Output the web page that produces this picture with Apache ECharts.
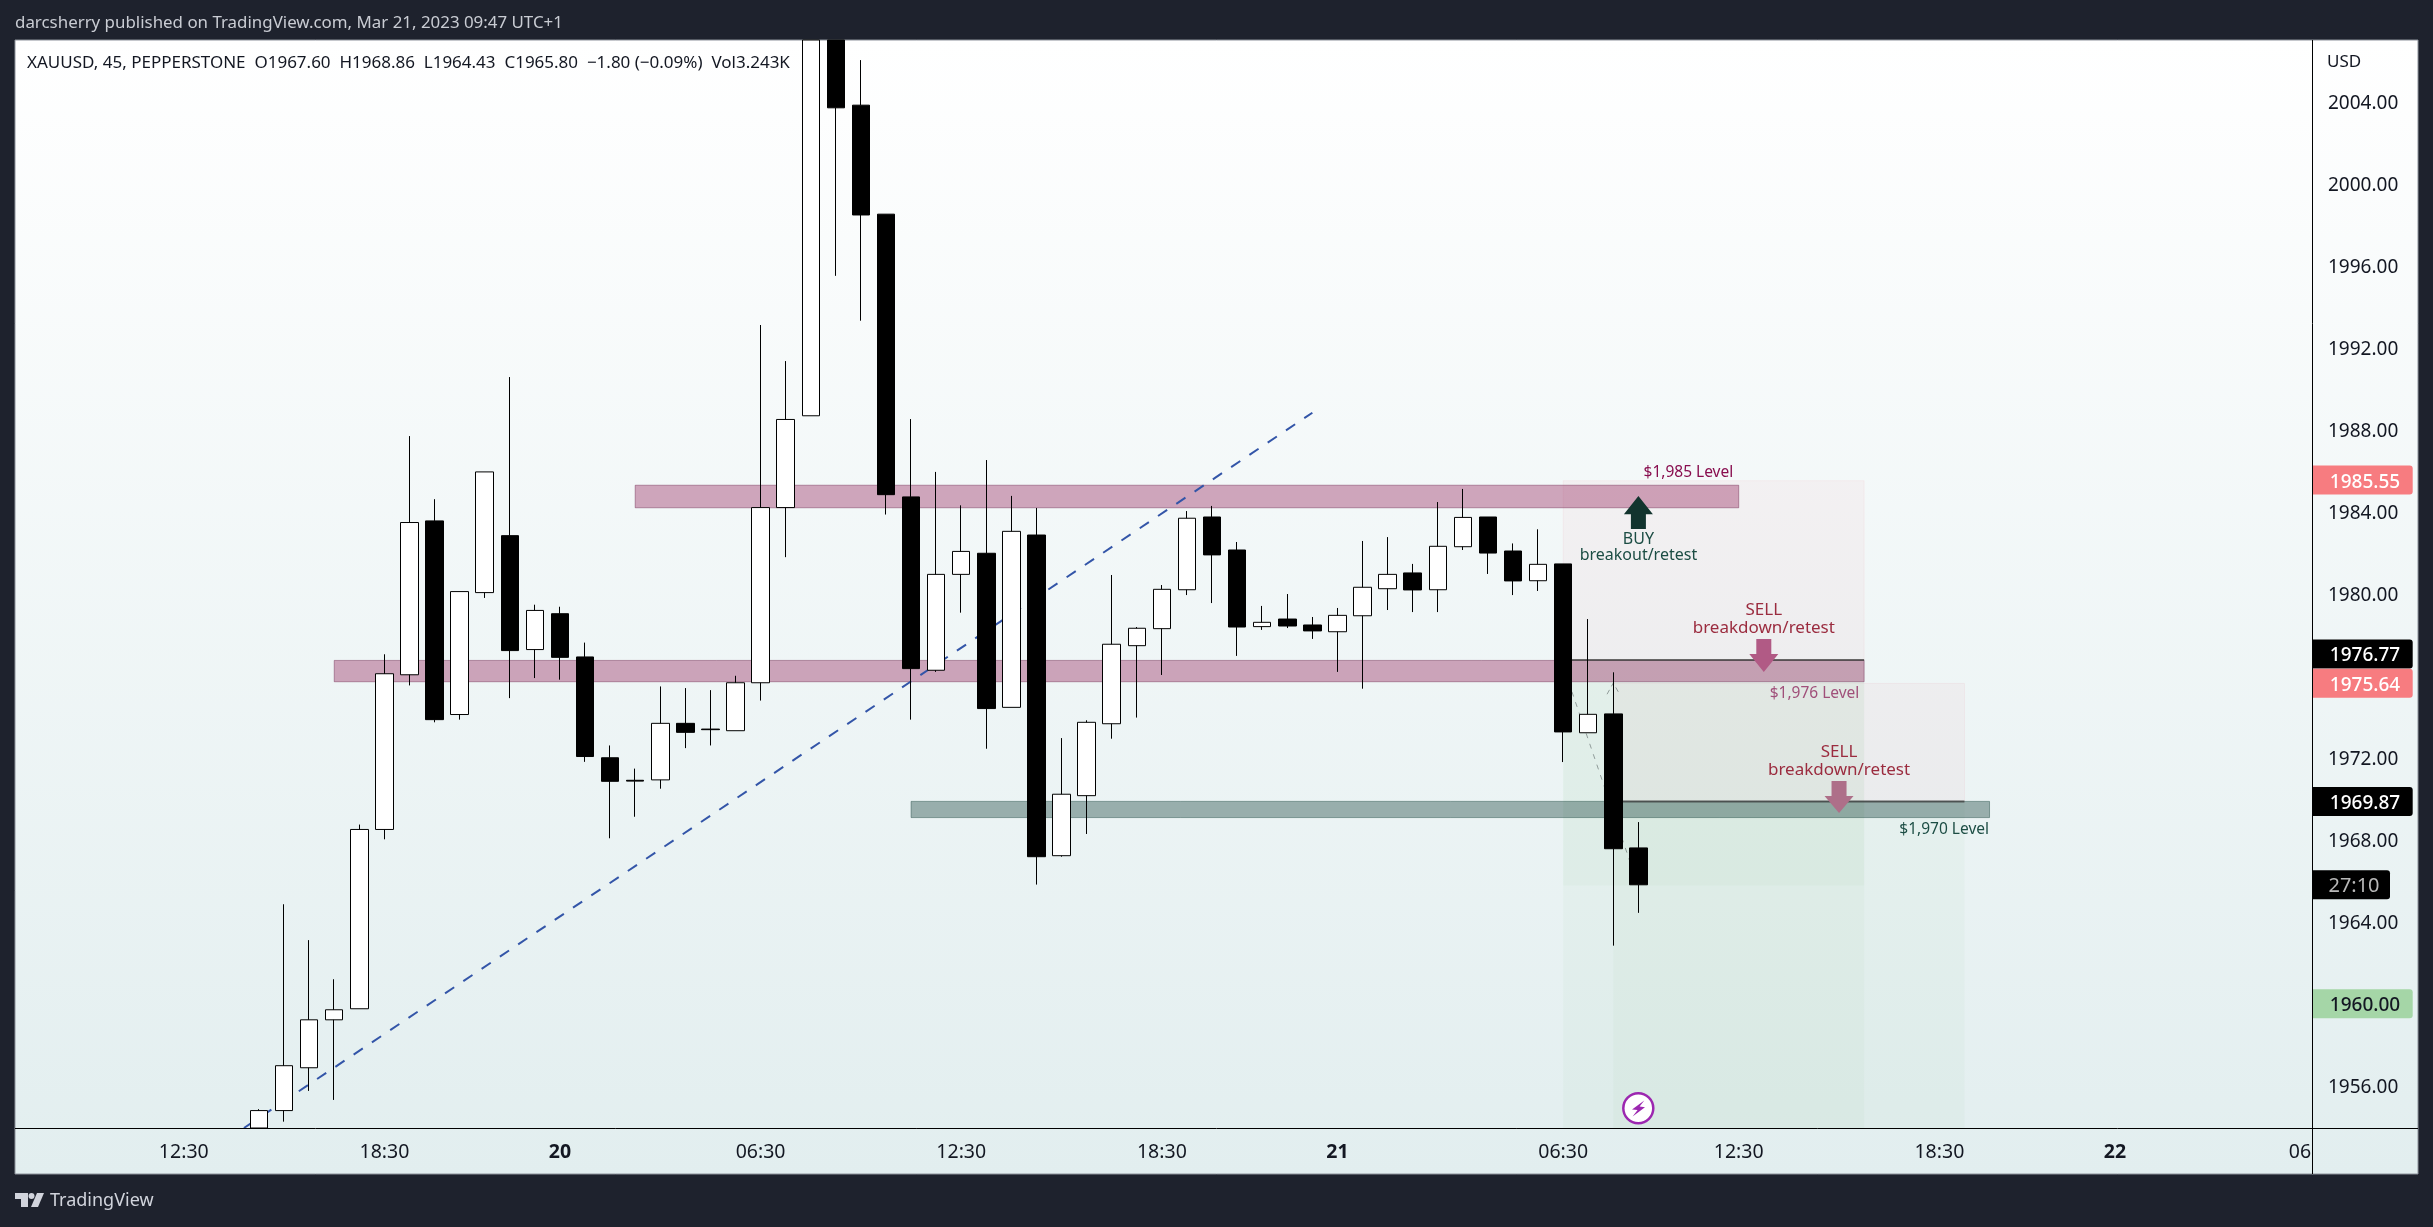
<!DOCTYPE html>
<html>
<head>
<meta charset="utf-8">
<title>XAUUSD 45</title>
<script src="https://cdn.jsdelivr.net/npm/echarts@6/dist/echarts.min.js"></script>
<style>
    html, body { margin: 0; padding: 0; background: #1e222d; }
    #chart { width: 2433px; height: 1227px; }
</style>
</head>
<body>
<div id="chart"></div>
<script>
// candles, one entry per 45 minute bar
var barOpen = [1953.00, 1954.78, 1956.87, 1959.21, 1959.75, 1968.50, 1976.05, 1983.56, 1974.11, 1980.06, 1982.84, 1977.28, 1979.03, 1976.92, 1972.00, 1970.90, 1970.92, 1973.68, 1973.40, 1973.32, 1975.66, 1984.21, 1988.69, 2009.00, 2003.85, 1998.53, 1984.73, 1976.27, 1980.95, 1981.98, 1974.46, 1982.87, 1967.22, 1970.15, 1973.66, 1977.47, 1978.30, 1980.20, 1983.75, 1982.14, 1978.40, 1978.77, 1978.48, 1978.15, 1978.93, 1980.25, 1981.02, 1980.20, 1982.30, 1983.75, 1982.09, 1980.64, 1981.46, 1973.22, 1974.14, 1967.60];
var barHigh = [1954.85, 1964.85, 1963.10, 1961.19, 1968.74, 1977.05, 1987.70, 1984.62, 1980.11, 1985.95, 1990.58, 1979.47, 1979.37, 1977.62, 1972.60, 1971.47, 1975.48, 1975.40, 1975.30, 1976.00, 1993.12, 1991.36, 2011.00, 2010.00, 2006.05, 1998.53, 1988.53, 1985.95, 1984.32, 1986.53, 1984.78, 1984.19, 1972.96, 1973.83, 1980.92, 1978.38, 1980.43, 1984.04, 1984.29, 1982.53, 1979.41, 1979.99, 1978.87, 1979.31, 1982.58, 1982.77, 1981.46, 1984.48, 1985.12, 1983.75, 1982.46, 1983.15, 1981.46, 1978.77, 1976.17, 1968.86];
var barLow = [1953.00, 1954.24, 1955.74, 1955.30, 1959.75, 1968.02, 1975.53, 1973.73, 1973.86, 1979.80, 1974.91, 1975.89, 1975.81, 1971.80, 1968.07, 1969.12, 1970.49, 1972.47, 1972.60, 1973.32, 1974.79, 1981.79, 1988.69, 1995.52, 1993.33, 1983.87, 1973.86, 1976.19, 1979.08, 1972.44, 1974.46, 1965.81, 1967.17, 1968.28, 1972.93, 1973.96, 1976.04, 1979.94, 1979.55, 1976.97, 1978.24, 1978.33, 1977.80, 1976.19, 1975.37, 1979.21, 1979.11, 1979.11, 1982.14, 1980.97, 1979.94, 1980.14, 1971.79, 1973.22, 1962.83, 1964.43];
var barClose = [1954.78, 1956.97, 1959.21, 1959.70, 1968.50, 1976.10, 1983.48, 1973.86, 1980.11, 1985.95, 1977.23, 1979.19, 1976.90, 1972.06, 1970.85, 1970.86, 1973.68, 1973.24, 1973.37, 1975.66, 1984.21, 1988.51, 2010.00, 2003.72, 1998.49, 1984.84, 1976.35, 1980.95, 1982.07, 1974.40, 1983.05, 1967.17, 1970.22, 1973.73, 1977.54, 1978.32, 1980.22, 1983.69, 1981.90, 1978.38, 1978.61, 1978.43, 1978.19, 1978.95, 1980.32, 1980.95, 1980.19, 1982.32, 1983.73, 1981.99, 1980.63, 1981.44, 1973.26, 1974.12, 1967.56, 1965.80];

// axis labels
var priceTicks = [1956, 1964, 1968, 1972, 1980, 1984, 1988, 1992, 1996, 2000, 2004];
var timeLabels = ['12:30', '18:30', '20', '06:30', '12:30', '18:30', '21', '06:30', '12:30', '18:30', '22', '06'];
var timeLabelBars = [-3, 5, 12, 20, 28, 36, 43, 52, 59, 67, 74, 81.38];

// visible range of the axes
var BAR_MIN = -9.729, BAR_MAX = 81.858;
var PRICE_MIN = 1953.93, PRICE_MAX = 2007.03;

// drawings: [bar from, bar to, price a, price b]
var pinkBands = [[15, 59, 1985.30, 1984.20], [3, 64, 1976.75, 1975.71]];
var greenBands = [[26, 69, 1969.87, 1969.08]];
var riskZones = [[52, 64, 1985.52, 1976.77], [54, 68, 1975.63, 1969.87]];
var targetZones = [[52, 64, 1976.77, PRICE_MIN], [54, 68, 1969.87, PRICE_MIN], [52, 64, 1976.77, 1965.77]];
var entryLines = [[52, 64, 1976.77, 1976.77], [54, 68, 1969.87, 1969.87]];

// trend line and projection, [bar, price]
var trendLine = [[-0.6, 1953.93], [42, 1988.84]];
var projectionLine = [[52.35, 1975.22], [54.67, 1966.91]];
var projectionHead = [[53.75, 1975.10], [54, 1975.65], [54.25, 1975.10]];

// arrows: [bar, tail price, neck price, tip price]
var buyArrows = [[55, 1983.16, 1983.89, 1984.77]];
var sellArrows = [[60, 1977.79, 1977.06, 1976.18]];
var sellArrowsMuted = [[63, 1970.86, 1970.13, 1969.30]];

// notes: [bar, price]
var levelPinkTexts = ['$1,985 Level'];
var levelPinkAt = [[58.78, 1985.91]];
var levelPaleTexts = ['$1,976 Level'];
var levelPaleAt = [[63.81, 1975.12]];
var levelGreenTexts = ['$1,970 Level'];
var levelGreenAt = [[68.98, 1968.49]];
var buyTexts = ['BUY', 'breakout/retest'];
var buyAt = [[55, 1982.67], [55, 1981.86]];
var sellTexts = ['SELL', 'breakdown/retest', 'SELL', 'breakdown/retest'];
var sellAt = [[60, 1979.21], [60, 1978.33], [63, 1972.29], [63, 1971.40]];

// price scale tags
var riskTags = [1985.55, 1975.64];
var levelTags = [1976.77, 1969.87];
var targetTags = [1960.00];
var countdownPrice = [1965.80];
var countdownText = '27:10';

var FONT = '"Noto Sans", sans-serif';
var PANEL_LEFT = 15, PANEL_TOP = 40, PANEL_RIGHT = 2418, PANEL_BOTTOM = 1174;
var PLOT_RIGHT = 2312, PLOT_BOTTOM = 1128;

function clampPrice(value) {
    return Math.max(PRICE_MIN, Math.min(PRICE_MAX, value));
}

// the candlestick series does not cut a body at the grid edge, so hold it inside the range
function candleData() {
    var rows = [];
    for (var i = 0; i < barOpen.length; i++) {
        rows.push([i, clampPrice(barOpen[i]), clampPrice(barClose[i]), clampPrice(barLow[i]), clampPrice(barHigh[i])]);
    }
    return rows;
}

function zoneSeries(rows, fill, stroke, z) {
    return {
        type: 'custom',
        silent: true,
        z: z,
        encode: {x: [0, 1], y: [2, 3]},
        data: rows,
        renderItem: function (params, api) {
            var a = api.coord([api.value(0), api.value(2)]);
            var b = api.coord([api.value(1), api.value(3)]);
            return {
                type: 'rect',
                shape: {x: a[0], y: a[1], width: b[0] - a[0], height: b[1] - a[1]},
                style: {fill: fill, stroke: stroke, lineWidth: 1}
            };
        }
    };
}

function entrySeries(rows) {
    return {
        type: 'custom',
        silent: true,
        z: 2,
        encode: {x: [0, 1], y: [2, 3]},
        data: rows,
        renderItem: function (params, api) {
            var a = api.coord([api.value(0), api.value(2)]);
            var b = api.coord([api.value(1), api.value(3)]);
            return {
                type: 'line',
                shape: {x1: a[0], y1: a[1], x2: b[0], y2: b[1]},
                style: {stroke: 'rgba(60,60,60,0.75)', lineWidth: 2}
            };
        }
    };
}

function dashSeries(points, color, width, dash) {
    return {
        type: 'line',
        silent: true,
        z: 2,
        symbol: 'none',
        data: points,
        lineStyle: {color: color, width: width, type: dash}
    };
}

function arrowSeries(rows, fill) {
    return {
        type: 'custom',
        silent: true,
        z: 5,
        encode: {x: 0, y: [1, 2, 3]},
        data: rows,
        renderItem: function (params, api) {
            var tail = api.coord([api.value(0), api.value(1)]);
            var neckY = api.coord([api.value(0), api.value(2)])[1];
            var tipY = api.coord([api.value(0), api.value(3)])[1];
            var x = tail[0];
            return {
                type: 'polygon',
                shape: {points: [
                    [x - 7.5, tail[1]], [x + 7.5, tail[1]], [x + 7.5, neckY], [x + 14.5, neckY],
                    [x, tipY], [x - 14.5, neckY], [x - 7.5, neckY]
                ]},
                style: {fill: fill}
            };
        }
    };
}

function noteSeries(texts, rows, color, size, align) {
    return {
        type: 'custom',
        silent: true,
        z: 6,
        encode: {x: 0, y: 1},
        data: rows,
        renderItem: function (params, api) {
            var p = api.coord([api.value(0), api.value(1)]);
            return {
                type: 'text',
                x: p[0],
                y: p[1],
                style: {
                    text: texts[params.dataIndex],
                    fill: color,
                    font: size + 'px ' + FONT,
                    align: align,
                    verticalAlign: 'middle'
                }
            };
        }
    };
}

function tagSeries(values, fill, textFill, width, label, nudge) {
    return {
        type: 'custom',
        silent: true,
        z: 8,
        clip: false,
        encode: {y: 0},
        data: values.map(function (v) { return [v]; }),
        renderItem: function (params, api) {
            var value = api.value(0);
            var p = api.coord([BAR_MAX, value]);
            var y = p[1] + (nudge ? nudge(value) : 0);
            return {
                type: 'group',
                children: [{
                    type: 'rect',
                    shape: {x: PLOT_RIGHT, y: y - 14.5, width: width, height: 29, r: [0, 3, 3, 0]},
                    style: {fill: fill}
                }, {
                    type: 'text',
                    x: PLOT_RIGHT + (width > 90 ? 53 : 42),
                    y: y + 2,
                    style: {
                        text: label || value.toFixed(2),
                        fill: textFill,
                        font: (label ? '20px ' : '500 19px ') + FONT,
                        align: 'center',
                        verticalAlign: 'middle'
                    }
                }]
            };
        }
    };
}

var chrome = [
    {
        type: 'rect', z: -10,
        shape: {x: PANEL_LEFT, y: PANEL_TOP, width: PANEL_RIGHT - PANEL_LEFT, height: PANEL_BOTTOM - PANEL_TOP},
        style: {
            fill: new echarts.graphic.LinearGradient(0, 0, 0, 1, [
                {offset: 0, color: '#ffffff'},
                {offset: 1, color: '#e2eeef'}
            ]),
            stroke: '#8d929b',
            lineWidth: 1
        }
    },
    {
        type: 'line', z: 9,
        shape: {x1: PANEL_LEFT, y1: PLOT_BOTTOM + 0.5, x2: PANEL_RIGHT, y2: PLOT_BOTTOM + 0.5},
        style: {stroke: '#000', lineWidth: 1}
    },
    {
        type: 'line', z: 9,
        shape: {x1: PLOT_RIGHT + 0.5, y1: PANEL_TOP, x2: PLOT_RIGHT + 0.5, y2: PANEL_BOTTOM},
        style: {stroke: '#000', lineWidth: 1}
    },
    {
        type: 'text', z: 9, x: 15, y: 23,
        style: {
            text: 'darcsherry published on TradingView.com, Mar 21, 2023 09:47 UTC+1',
            fill: '#c9ccd3', font: '16.9px ' + FONT, verticalAlign: 'middle'
        }
    },
    {
        type: 'text', z: 9, x: 27, y: 63,
        style: {
            text: 'XAUUSD, 45, PEPPERSTONE  O1967.60  H1968.86  L1964.43  C1965.80  \u22121.80 (\u22120.09%)  Vol3.243K',
            fill: '#131722', font: '17px ' + FONT, verticalAlign: 'middle'
        }
    },
    {
        type: 'text', z: 9, x: 2327, y: 62,
        style: {text: 'USD', fill: '#131722', font: '17px ' + FONT, verticalAlign: 'middle'}
    },
    {
        type: 'text', z: 9, x: 50, y: 1201,
        style: {text: 'TradingView', fill: '#d1d4dc', font: '18px ' + FONT, verticalAlign: 'middle'}
    },
    // TradingView logo
    {
        type: 'polygon', z: 9,
        shape: {points: [[15, 1193], [28, 1193], [28, 1207], [21, 1207], [21, 1199], [15, 1199]]},
        style: {fill: '#d1d4dc'}
    },
    {
        type: 'circle', z: 9,
        shape: {cx: 31.5, cy: 1196, r: 3},
        style: {fill: '#d1d4dc'}
    },
    {
        type: 'polygon', z: 9,
        shape: {points: [[37, 1193], [44, 1193], [38, 1207], [31, 1207]]},
        style: {fill: '#d1d4dc'}
    },
    // lightning badge on the time scale
    {
        type: 'circle', z: 9,
        shape: {cx: 1638.3, cy: 1108.3, r: 15},
        style: {fill: '#fff', stroke: '#9c27b0', lineWidth: 2.5}
    },
    {
        type: 'polygon', z: 9,
        shape: {points: [[1644.3, 1100.6], [1632, 1109.6], [1637.6, 1110], [1632.6, 1116.6], [1645, 1107.3], [1639.6, 1106.6]]},
        style: {fill: '#9c27b0'}
    }
];

var chart = echarts.init(document.getElementById('chart'), null, {renderer: 'canvas'});

chart.setOption({
    animation: false,
    backgroundColor: '#1e222d',
    graphic: {elements: chrome},
    grid: {left: PANEL_LEFT, top: PANEL_TOP, width: PLOT_RIGHT - PANEL_LEFT, height: PLOT_BOTTOM - PANEL_TOP, containLabel: false},
    xAxis: {
        type: 'value',
        min: BAR_MIN,
        max: BAR_MAX,
        splitLine: {show: false},
        axisLine: {show: false},
        axisTick: {show: false},
        axisLabel: {
            customValues: timeLabelBars,
            margin: 14,
            color: '#131722',
            fontFamily: FONT,
            fontSize: 19.5,
            formatter: function (value) {
                var text = timeLabels[timeLabelBars.indexOf(value)];
                return text.length == 2 && text != '06' ? '{day|' + text + '}' : text;
            },
            rich: {day: {fontWeight: 'bold', fontFamily: FONT, fontSize: 19.5, color: '#131722'}}
        }
    },
    yAxis: {
        type: 'value',
        position: 'right',
        min: PRICE_MIN,
        max: PRICE_MAX,
        splitLine: {show: false},
        axisLine: {show: false},
        axisTick: {show: false},
        axisLabel: {
            customValues: priceTicks,
            margin: 16,
            // middle alignment ignores padding, top alignment takes it
            verticalAlign: 'top',
            padding: [-7.5, 0, 0, 0],
            color: '#131722',
            fontFamily: FONT,
            fontSize: 19,
            formatter: function (value) {
                return value.toFixed(2);
            }
        }
    },
    series: [
        zoneSeries(riskZones, 'rgba(242,54,69,0.04)', 'rgba(242,54,69,0.05)', 1),
        zoneSeries(targetZones, 'rgba(76,175,80,0.035)', 'rgba(76,175,80,0)', 1),
        zoneSeries(pinkBands, 'rgba(150,41,95,0.4)', 'rgba(110,40,80,0.45)', 1),
        zoneSeries(greenBands, 'rgba(28,70,64,0.4)', 'rgba(28,70,64,0.45)', 1),
        entrySeries(entryLines),
        dashSeries(trendLine, '#3355a8', 2, [11, 11]),
        dashSeries(projectionLine, 'rgba(90,100,100,0.6)', 1, [5, 6]),
        dashSeries(projectionHead, 'rgba(90,100,100,0.6)', 1, [5, 4]),
        {
            type: 'candlestick',
            z: 3,
            silent: true,
            barWidth: 18,
            encode: {x: 0, y: [1, 2, 3, 4]},
            data: candleData(),
            itemStyle: {
                color: '#ffffff',
                color0: '#000000',
                borderColor: '#000000',
                borderColor0: '#000000',
                borderWidth: 1
            }
        },
        arrowSeries(buyArrows, '#12342e'),
        arrowSeries(sellArrows, '#b15a85'),
        arrowSeries(sellArrowsMuted, '#ae6f89'),
        noteSeries(levelPinkTexts, levelPinkAt, '#880e4f', 15.5, 'right'),
        noteSeries(levelPaleTexts, levelPaleAt, '#a0507a', 15.5, 'right'),
        noteSeries(levelGreenTexts, levelGreenAt, '#1c4d44', 15.5, 'right'),
        noteSeries(buyTexts, buyAt, '#1c4d44', 16, 'center'),
        noteSeries(sellTexts, sellAt, '#9b2c3f', 17, 'center'),
        tagSeries(levelTags, '#000000', '#ffffff', 100.7, null, function (v) { return v == 1976.77 ? -6 : 0; }),
        tagSeries(riskTags, '#f77c80', '#ffffff', 100.7),
        tagSeries(targetTags, '#a5d6a7', '#131722', 100.7),
        tagSeries(countdownPrice, '#000000', '#b8b8b8', 78, countdownText)
    ]
});
</script>
</body>
</html>
